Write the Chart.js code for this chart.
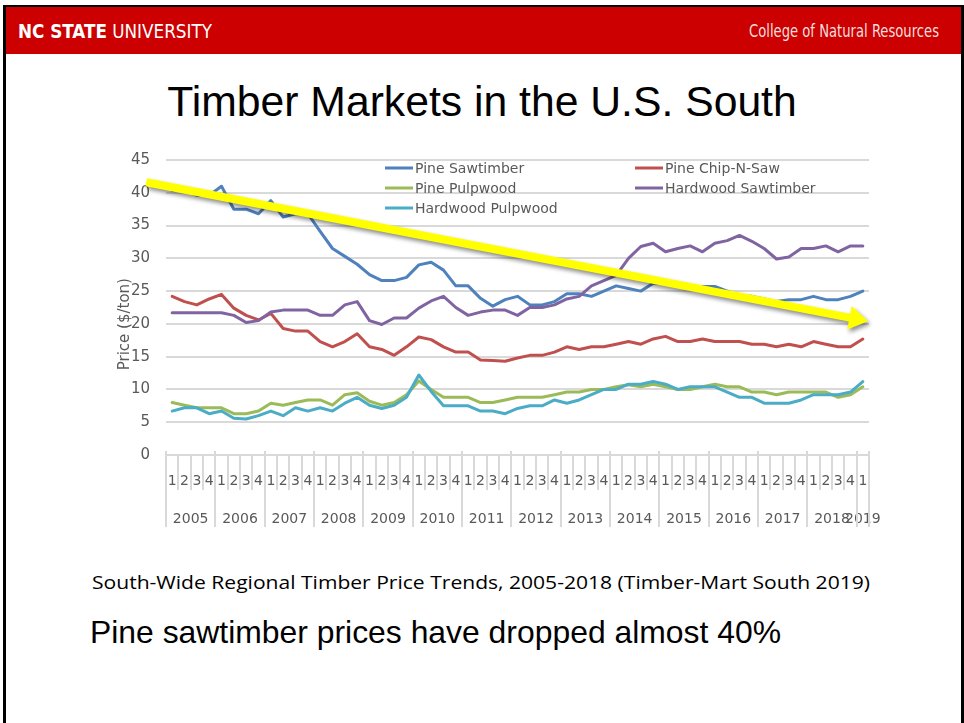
<!DOCTYPE html>
<html>
<head>
<meta charset="utf-8">
<script src="https://cdn.jsdelivr.net/npm/chart.js@4.4.1/dist/chart.umd.min.js"></script>
<style>
  html, body { margin: 0; padding: 0; background: #fff; }
  #slide { position: relative; width: 964px; height: 723px; overflow: hidden; background: #fff; }
  .frame { position: absolute; background: #000; }
  #band { position: absolute; left: 6px; top: 7px; width: 955px; height: 47px; background: #cc0000; }
  .txt { position: absolute; white-space: nowrap; transform-origin: 0 50%; }
  #nc { left: 18px; top: 19px; font-family: "Liberation Sans Narrow", "DejaVu Sans Condensed", sans-serif; font-size: 20px; line-height: 24px; color: #fff; }
  #nc b { font-weight: bold; }
  #college { left: 749px; top: 20px; font-family: "Liberation Sans Narrow", "DejaVu Sans Condensed", sans-serif; font-size: 18px; line-height: 22px; color: #f4dede; }
  #title { left: 0; width: 964px; text-align: center; top: 77px; font-family: "Liberation Sans", Arial, sans-serif; font-size: 42.7px; line-height: 48px; color: #000; transform: none; }
  #caption { left: 92px; top: 569px; font-family: "Open Sans", sans-serif; font-size: 18.5px; line-height: 26px; color: #000; }
  #sentence { left: 90px; top: 613px; font-family: "Liberation Sans", Arial, sans-serif; font-size: 32px; line-height: 38px; color: #000; }
  #chart { position: absolute; left: 0; top: 0; }
</style>
</head>
<body>
<div id="slide">
  <div class="frame" style="left:3px;top:5px;width:3px;height:730px;"></div>
  <div class="frame" style="left:3px;top:5px;width:960px;height:2px;"></div>
  <div class="frame" style="left:961px;top:5px;width:3px;height:730px;"></div>
  <div id="band"></div>
  <div class="txt" id="nc"><b>NC STATE</b> UNIVERSITY</div>
  <div class="txt" id="college">College of Natural Resources</div>
  <div class="txt" id="title">Timber Markets in the U.S. South</div>
  <div class="txt" id="caption">South-Wide Regional Timber Price Trends, 2005-2018 (Timber-Mart South 2019)</div>
  <div class="txt" id="sentence">Pine sawtimber prices have dropped almost 40%</div>
  <canvas id="chart" width="964" height="723"></canvas>
</div>
<script>
// ---------- data (quarterly, 2005 Q1 – 2019 Q1, $/ton) ----------
const quarterLabels = [
  '1','2','3','4','1','2','3','4','1','2','3','4','1','2','3','4',
  '1','2','3','4','1','2','3','4','1','2','3','4','1','2','3','4',
  '1','2','3','4','1','2','3','4','1','2','3','4','1','2','3','4',
  '1','2','3','4','1','2','3','4','1'
];
const yearLabels = ['2005','2006','2007','2008','2009','2010','2011','2012','2013','2014','2015','2016','2017','2018','2019'];
// category position (quarter index) at the centre of each year group
const yearCenters = [1.5,5.5,9.5,13.5,17.5,21.5,25.5,29.5,33.5,37.5,41.5,45.5,49.5,53.5,56];
// year group boundaries (quarter index)
const yearBounds = [-0.5,3.5,7.5,11.5,15.5,19.5,23.5,27.5,31.5,35.5,39.5,43.5,47.5,51.5,55.5,56.5];

const seriesNames = ['Pine Sawtimber','Pine Chip-N-Saw','Pine Pulpwood','Hardwood Sawtimber','Hardwood Pulpwood'];

const pineSawtimber = [
  40.4,40.4,39.6,39.6,41.0,37.5,37.5,36.8,38.8,36.3,36.8,36.8,34.1,31.5,30.3,29.1,
  27.5,26.6,26.6,27.1,29.0,29.4,28.2,25.8,25.8,23.9,22.7,23.7,24.2,22.9,22.9,23.4,
  24.6,24.6,24.2,25.0,25.8,25.4,25.0,26.2,26.2,25.8,25.3,25.7,25.7,25.0,24.2,24.2,
  23.8,23.4,23.7,23.7,24.2,23.7,23.7,24.2,25.0
];
const pineChipNSaw = [
  24.2,23.4,22.9,23.8,24.5,22.4,21.3,20.6,21.6,19.3,18.9,18.9,17.3,16.5,17.3,18.5,
  16.5,16.1,15.2,16.5,18.0,17.6,16.5,15.7,15.7,14.5,14.4,14.3,14.8,15.2,15.2,15.7,
  16.5,16.1,16.5,16.5,16.9,17.3,16.9,17.7,18.1,17.3,17.3,17.7,17.3,17.3,17.3,16.9,
  16.9,16.5,16.9,16.5,17.3,16.9,16.5,16.5,17.7
];
const pinePulpwood = [
  8.0,7.6,7.2,7.2,7.2,6.3,6.3,6.7,7.9,7.6,8.0,8.4,8.4,7.6,9.2,9.5,
  8.2,7.6,8.0,9.2,11.3,10.0,8.8,8.8,8.8,8.0,8.0,8.4,8.8,8.8,8.8,9.2,
  9.6,9.6,10.0,10.0,10.4,10.7,10.4,10.8,10.4,10.0,10.0,10.4,10.8,10.4,10.4,9.6,
  9.6,9.2,9.6,9.6,9.6,9.6,8.8,9.2,10.4
];
const hardwoodSawtimber = [
  21.7,21.7,21.7,21.7,21.7,21.3,20.2,20.5,21.8,22.1,22.1,22.1,21.3,21.3,22.9,23.4,
  20.5,19.9,20.9,20.9,22.4,23.5,24.2,22.5,21.3,21.8,22.1,22.1,21.3,22.5,22.5,22.9,
  23.8,24.2,25.8,26.6,27.4,30.0,31.8,32.3,31.0,31.5,31.9,31.0,32.3,32.7,33.5,32.6,
  31.5,29.9,30.2,31.5,31.5,31.9,31.0,31.9,31.9
];
const hardwoodPulpwood = [
  6.7,7.2,7.2,6.3,6.7,5.6,5.5,6.0,6.7,6.0,7.2,6.7,7.2,6.7,7.9,8.8,
  7.6,7.1,7.6,8.8,12.2,9.7,7.5,7.5,7.5,6.7,6.7,6.3,7.1,7.5,7.5,8.4,
  7.9,8.4,9.2,10.0,10.0,10.8,10.8,11.2,10.8,10.0,10.4,10.4,10.4,9.6,8.8,8.8,
  7.9,7.9,7.9,8.4,9.2,9.2,9.2,9.6,11.2
];
const seriesColors = ['#4F81BD','#C0504D','#9BBB59','#8064A2','#4BACC6'];

// Trend-arrow annotation, in data units: [quarter index, $/ton]
const trendFrom = [-2.1, 41.6];
const trendTo = [56.43, 20.4];

// ---------- fit header / caption texts ----------
function fitWidth(id, target) {
  const el = document.getElementById(id);
  const w = el.getBoundingClientRect().width;
  if (w > 0) el.style.transform = 'scaleX(' + (target / w) + ')';
}
fitWidth('nc', 194);
fitWidth('college', 190);
fitWidth('caption', 778);
fitWidth('sentence', 691);

// ---------- plugins ----------
const axisGrey = '#d9d9d9';
const textGrey = '#595959';

const yearSeparators = {
  id: 'yearSeparators',
  afterDraw(chart) {
    const x2 = chart.scales.x2;
    const ctx = chart.ctx;
    ctx.save();
    ctx.strokeStyle = axisGrey;
    ctx.lineWidth = 2;
    yearBounds.forEach(b => {
      const px = Math.round(x2.getPixelForValue(b));
      ctx.beginPath();
      ctx.moveTo(px, chart.chartArea.bottom - 4);
      ctx.lineTo(px, x2.bottom - 3);
      ctx.stroke();
    });
    ctx.restore();
  }
};

const legendGrid = {
  id: 'legendGrid',
  afterDatasetsDraw(chart) {
    const ctx = chart.ctx;
    const a = chart.chartArea;
    const cols = [219, 469];
    const rows = [8, 28, 48];
    ctx.save();
    ctx.font = '14px "DejaVu Sans"';
    ctx.textBaseline = 'middle';
    ctx.textAlign = 'left';
    chart.data.datasets.forEach((ds, i) => {
      const x = a.left + cols[i % 2];
      const y = a.top + rows[Math.floor(i / 2)];
      ctx.strokeStyle = ds.borderColor;
      ctx.lineWidth = 3;
      ctx.beginPath();
      ctx.moveTo(x, y);
      ctx.lineTo(x + 28, y);
      ctx.stroke();
      ctx.fillStyle = textGrey;
      ctx.fillText(ds.label, x + 30, y + 1);
    });
    ctx.restore();
  }
};

const trendArrow = {
  id: 'trendArrow',
  afterDatasetsDraw(chart) {
    const xs = chart.scales.x2, ys = chart.scales.y, ctx = chart.ctx;
    const x0 = xs.getPixelForValue(trendFrom[0]), y0 = ys.getPixelForValue(trendFrom[1]);
    const x1 = xs.getPixelForValue(trendTo[0]), y1 = ys.getPixelForValue(trendTo[1]);
    const dx = x1 - x0, dy = y1 - y0, len = Math.hypot(dx, dy);
    const ux = dx / len, uy = dy / len, nx = -uy, ny = ux;
    const shaft = 4, headLen = 19, headHalf = 12;
    const bx = x1 - ux * headLen, by = y1 - uy * headLen;
    ctx.save();
    ctx.shadowColor = 'rgba(0,0,0,0.45)';
    ctx.shadowBlur = 4;
    ctx.shadowOffsetX = 2;
    ctx.shadowOffsetY = 3;
    ctx.fillStyle = '#FFFF00';
    ctx.beginPath();
    ctx.moveTo(x0 + nx * shaft, y0 + ny * shaft);
    ctx.lineTo(bx + nx * shaft, by + ny * shaft);
    ctx.lineTo(bx + nx * headHalf, by + ny * headHalf);
    ctx.lineTo(x1, y1);
    ctx.lineTo(bx - nx * headHalf, by - ny * headHalf);
    ctx.lineTo(bx - nx * shaft, by - ny * shaft);
    ctx.lineTo(x0 - nx * shaft, y0 - ny * shaft);
    ctx.closePath();
    ctx.fill();
    ctx.restore();
  }
};

// ---------- chart ----------
const seriesData = [pineSawtimber, pineChipNSaw, pinePulpwood, hardwoodSawtimber, hardwoodPulpwood];
const datasets = seriesData.map((d, i) => ({
  label: seriesNames[i],
  data: d,
  borderColor: seriesColors[i],
  backgroundColor: seriesColors[i],
  borderWidth: 3,
  pointRadius: 0,
  tension: 0,
  fill: false,
  borderJoinStyle: 'round',
  borderCapStyle: 'round',
  order: seriesData.length - i
}));

new Chart(document.getElementById('chart'), {
  type: 'line',
  data: { labels: quarterLabels, datasets },
  options: {
    responsive: false,
    animation: false,
    devicePixelRatio: 1,
    layout: { padding: { left: 100, right: 95, top: 160, bottom: 193 } },
    plugins: { legend: { display: false }, tooltip: { enabled: false } },
    scales: {
      y: {
        min: 0, max: 45,
        ticks: { stepSize: 5, padding: 16, color: textGrey, font: { family: 'DejaVu Sans', size: 15 } },
        grid: { color: axisGrey, lineWidth: 2, drawTicks: false },
        border: { display: false },
        title: {
          display: true,
          text: 'Price ($/ton)' + '\u00a0'.repeat(7),
          color: textGrey,
          font: { family: 'DejaVu Sans', size: 15 },
          padding: { top: 16, bottom: 0 }
        },
        afterFit(s) { s.width = 66; }
      },
      x: {
        type: 'category',
        offset: true,
        grid: { offset: true, drawOnChartArea: false, drawTicks: true, tickLength: 35, color: axisGrey, lineWidth: 2 },
        border: { display: true, color: axisGrey, width: 2 },
        ticks: { autoSkip: false, maxRotation: 0, minRotation: 0, padding: -17, color: textGrey, font: { family: 'DejaVu Sans', size: 14 } },
        afterFit(s) { s.height = 35; }
      },
      x2: {
        type: 'linear',
        position: 'bottom',
        min: -0.5, max: 56.5,
        afterBuildTicks(s) { s.ticks = yearCenters.map(v => ({ value: v })); },
        grid: { display: false, drawTicks: false },
        border: { display: false },
        ticks: {
          autoSkip: false, maxRotation: 0, minRotation: 0, padding: 21,
          color: textGrey, font: { family: 'DejaVu Sans', size: 14 },
          callback: (v, i) => yearLabels[i]
        },
        afterFit(s) { s.height = 40; }
      }
    }
  },
  plugins: [yearSeparators, legendGrid, trendArrow]
});
</script>
</body>
</html>
